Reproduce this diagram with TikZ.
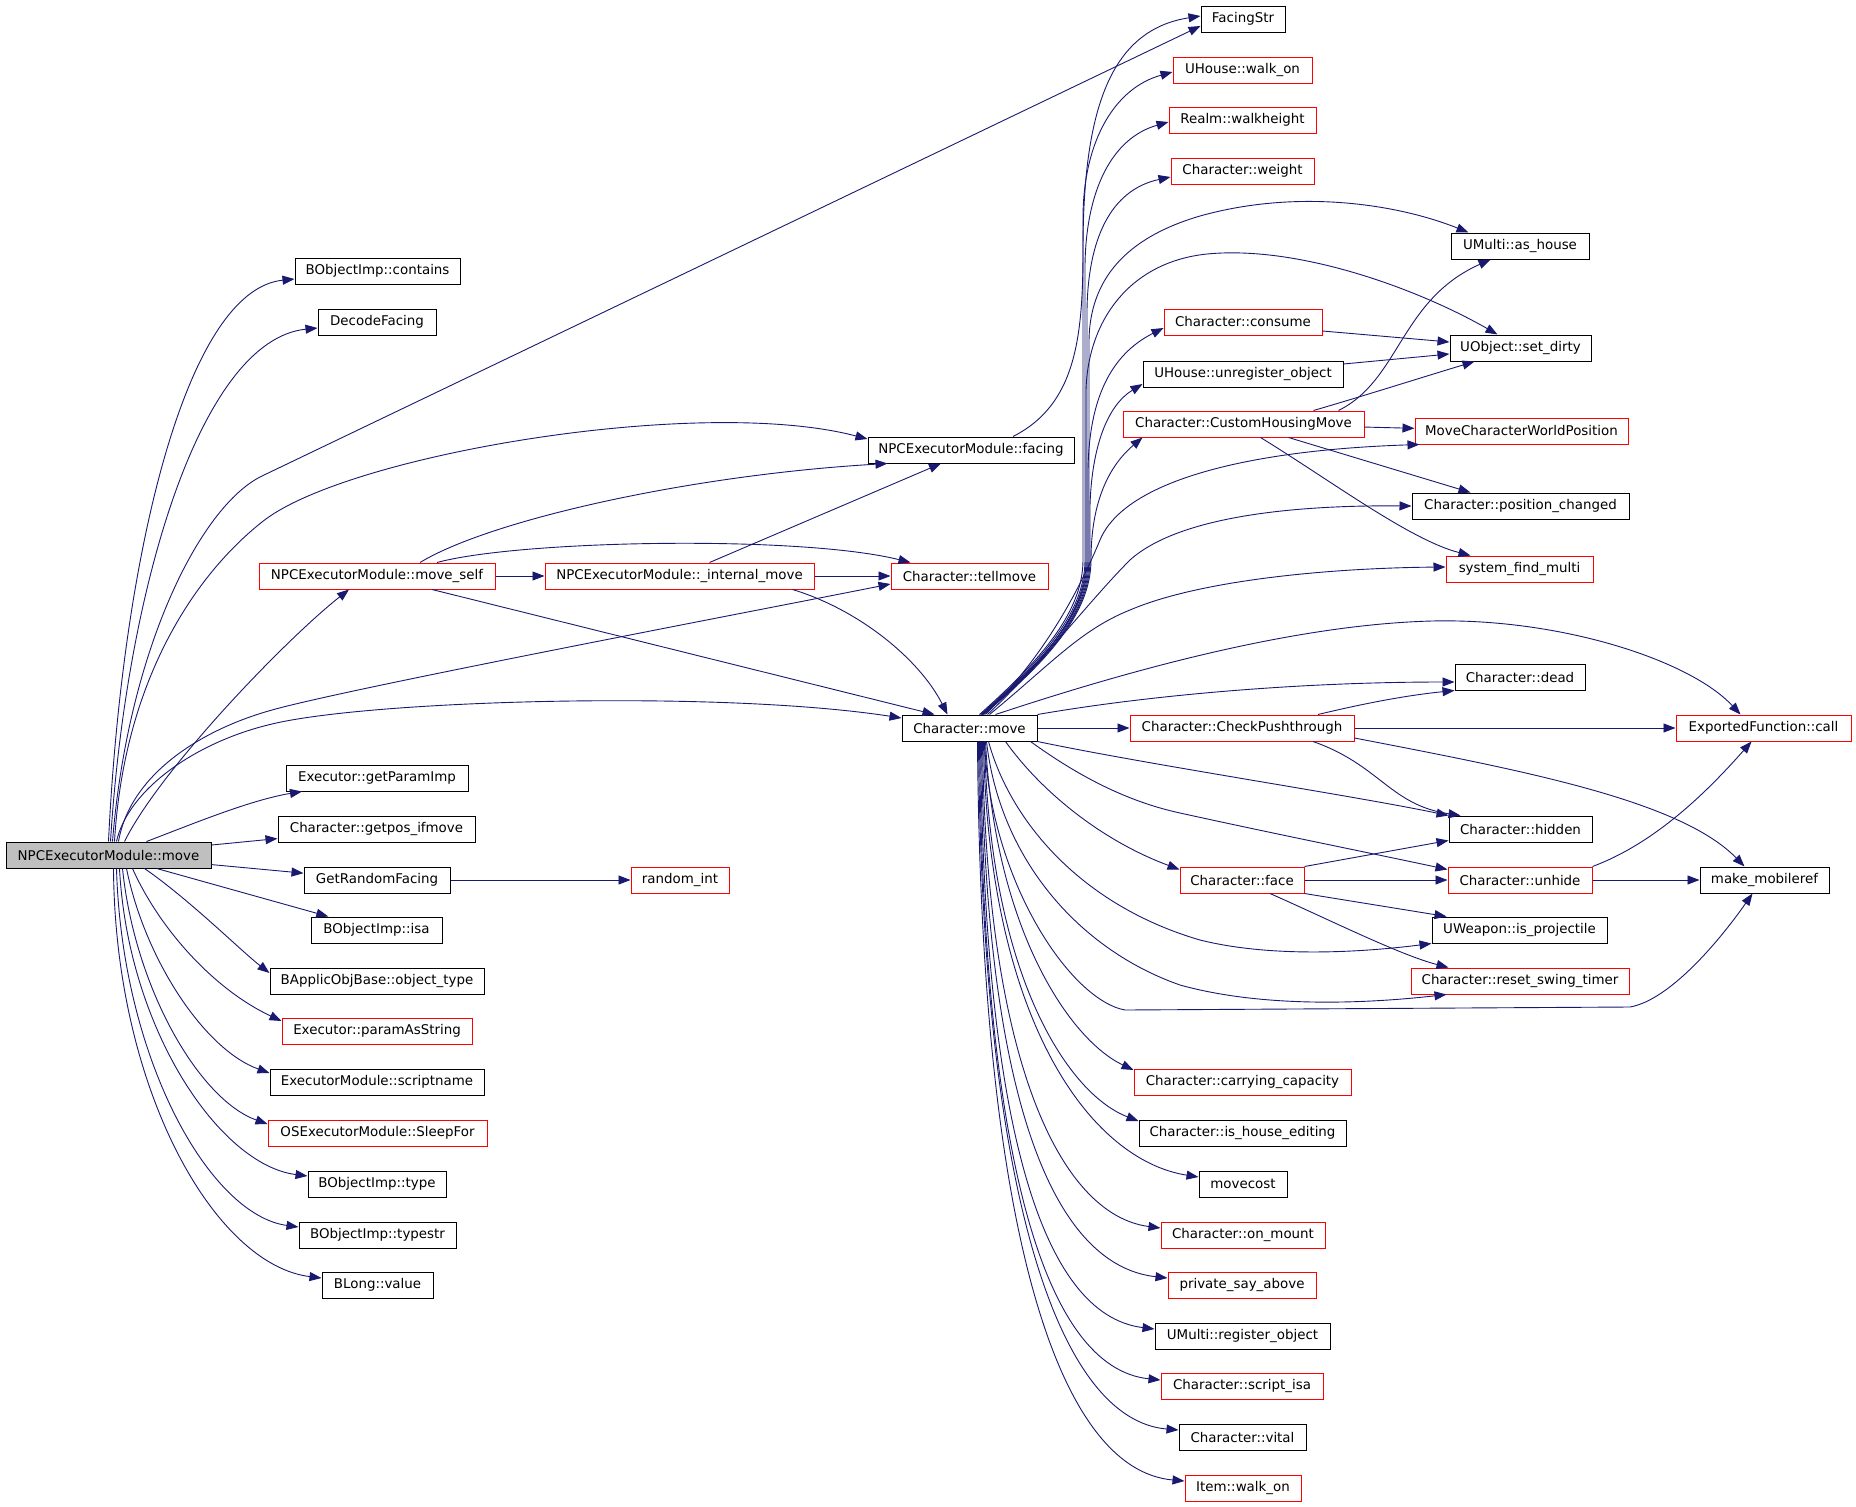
\documentclass[tikz,border=0pt]{standalone}
\usepackage{fontspec}
\setmainfont{DejaVu Sans}
\usetikzlibrary{arrows.meta}
\definecolor{edgeblue}{HTML}{191970}
\definecolor{mainfill}{HTML}{BFBFBF}
\tikzset{
  nb/.style={draw=black, line width=1pt, rectangle, minimum height=26pt, inner sep=0pt, font=\fontsize{13.4}{16}\selectfont, anchor=center},
  nr/.style={nb, draw=red},
  nmain/.style={nb, fill=mainfill},
  e/.style={draw=edgeblue, line width=0.9pt, -{Triangle[length=12pt,width=9pt]}},
}
\begin{document}
\begin{tikzpicture}[x=1pt,y=-1pt]
\fill[white] (0,0) rectangle (1856,1507);
\useasboundingbox (0,0) rectangle (1856,1507);
% ---------- nodes ----------
\node[nmain, minimum width=205pt] (main) at (108.5,855) {NPCExecutorModule::move};
% left column
\node[nb, minimum width=165pt] (contains) at (377.5,271) {BObjectImp::contains};
\node[nb, minimum width=118pt] (decode) at (377,322) {DecodeFacing};
\node[nr, minimum width=236pt] (moveself) at (377,576) {NPCExecutorModule::move\_self};
\node[nb, minimum width=182pt] (getparam) at (377,778) {Executor::getParamImp};
\node[nb, minimum width=197pt] (getpos) at (376.5,829) {Character::getpos\_ifmove};
\node[nb, minimum width=146pt] (grf) at (377,880) {GetRandomFacing};
\node[nb, minimum width=131pt] (isa) at (376.5,930) {BObjectImp::isa};
\node[nb, minimum width=214pt] (objtype) at (377,981) {BApplicObjBase::object\_type};
\node[nr, minimum width=190pt] (paramstr) at (377,1031) {Executor::paramAsString};
\node[nb, minimum width=214pt] (scriptname) at (377,1082) {ExecutorModule::scriptname};
\node[nr, minimum width=219pt] (sleepfor) at (377.5,1133) {OSExecutorModule::SleepFor};
\node[nb, minimum width=138pt] (type) at (377,1184) {BObjectImp::type};
\node[nb, minimum width=157pt] (typestr) at (377.5,1235) {BObjectImp::typestr};
\node[nb, minimum width=111pt] (blong) at (377.5,1285) {BLong::value};
% middle
\node[nr, minimum width=269pt] (intmove) at (679.5,576) {NPCExecutorModule::\_internal\_move};
\node[nr, minimum width=98pt] (randint) at (680,880) {random\_int};
\node[nb, minimum width=206pt] (facing) at (971,450) {NPCExecutorModule::facing};
\node[nr, minimum width=157pt] (tellmove) at (969.5,576) {Character::tellmove};
\node[nb, minimum width=135pt] (cmove) at (969.5,728) {Character::move};
% column 1243
\node[nb, minimum width=84pt] (facingstr) at (1243,19) {FacingStr};
\node[nr, minimum width=139pt] (uhwalk) at (1242.5,70) {UHouse::walk\_on};
\node[nr, minimum width=147pt] (realm) at (1242.5,120) {Realm::walkheight};
\node[nr, minimum width=143pt] (weight) at (1242.5,171) {Character::weight};
\node[nr, minimum width=158pt] (consume) at (1243,322) {Character::consume};
\node[nb, minimum width=200pt] (unreg) at (1243,374) {UHouse::unregister\_object};
\node[nr, minimum width=241pt] (chm) at (1243.5,424) {Character::CustomHousingMove};
\node[nr, minimum width=224pt] (cpt) at (1242,728) {Character::CheckPushthrough};
\node[nr, minimum width=124pt] (face) at (1242,880) {Character::face};
\node[nr, minimum width=217pt] (carry) at (1242.5,1082) {Character::carrying\_capacity};
\node[nb, minimum width=207pt] (ihe) at (1242.5,1133) {Character::is\_house\_editing};
\node[nb, minimum width=88pt] (movecost) at (1243,1184) {movecost};
\node[nr, minimum width=164pt] (onmount) at (1243,1235) {Character::on\_mount};
\node[nr, minimum width=148pt] (psa) at (1242,1285) {private\_say\_above};
\node[nb, minimum width=175pt] (regobj) at (1242.5,1336) {UMulti::register\_object};
\node[nr, minimum width=162pt] (scriptisa) at (1242,1386) {Character::script\_isa};
\node[nb, minimum width=127pt] (vital) at (1242.5,1437) {Character::vital};
\node[nr, minimum width=116pt] (itemwalk) at (1243,1488) {Item::walk\_on};
% column 1520
\node[nb, minimum width=138pt] (ashouse) at (1520,246) {UMulti::as\_house};
\node[nb, minimum width=141pt] (setdirty) at (1520.5,348) {UObject::set\_dirty};
\node[nr, minimum width=213pt] (mcwp) at (1521.5,431) {MoveCharacterWorldPosition};
\node[nb, minimum width=217pt] (posch) at (1520.5,506) {Character::position\_changed};
\node[nr, minimum width=147pt] (sfm) at (1519.5,569) {system\_find\_multi};
\node[nb, minimum width=130pt] (dead) at (1520,677) {Character::dead};
\node[nb, minimum width=143pt] (hidden) at (1520.5,829) {Character::hidden};
\node[nr, minimum width=144pt] (unhide) at (1520,880) {Character::unhide};
\node[nb, minimum width=175pt] (isproj) at (1519.5,930) {UWeapon::is\_projectile};
\node[nr, minimum width=218pt] (rst) at (1520,981) {Character::reset\_swing\_timer};
% column 1764
\node[nr, minimum width=175pt] (efcall) at (1763.5,728) {ExportedFunction::call};
\node[nb, minimum width=129pt] (mmr) at (1764.5,880) {make\_mobileref};
% ---------- edges from main ----------
\draw[e] ([xshift=0pt]main.north) .. controls (122,560) and (185,290) .. ([yshift=-8pt]contains.west);
\draw[e] ([xshift=2pt]main.north) .. controls (126,590) and (200,340) .. ([yshift=-6pt]decode.west);
\draw[e] ([xshift=4pt]main.north) .. controls (128,650) and (200,506) .. (262,476) -- ([yshift=-7pt]facingstr.west);
\draw[e] ([xshift=6pt]main.north) .. controls (124,680) and (195,575) .. (262,522) .. controls (345,455) and (700,395) .. ([yshift=11pt]facing.west);
\draw[e] ([xshift=16pt]main.north) .. controls (160,770) and (285,640) .. ([xshift=-28pt]moveself.south);
\draw[e] ([xshift=10pt]main.north) .. controls (130,775) and (200,730) .. (272,710) .. controls (350,688) and (760,610) .. ([yshift=-8pt]tellmove.west);
\draw[e] ([xshift=8pt]main.north) .. controls (128,790) and (195,742) .. (272,724) .. controls (372,700) and (720,690) .. ([yshift=10pt]cmove.west);
\draw[e] ([xshift=38pt]main.north) .. controls (190,825) and (250,800) .. ([xshift=-75pt]getparam.south);
\draw[e] (main) -- (getpos);
\draw[e] (main) -- (grf);
\draw[e] (main) -- (isa);
\draw[e] ([xshift=36pt]main.south) .. controls (190,900) and (240,950) .. ([yshift=8pt]objtype.west);
\draw[e] ([xshift=24pt]main.south) .. controls (160,930) and (215,990) .. ([yshift=10pt]paramstr.west);
\draw[e] ([xshift=18pt]main.south) .. controls (145,960) and (205,1050) .. ([yshift=9pt]scriptname.west);
\draw[e] ([xshift=14pt]main.south) .. controls (135,990) and (200,1100) .. ([yshift=9pt]sleepfor.west);
\draw[e] ([xshift=11pt]main.south) .. controls (128,1030) and (220,1165) .. ([yshift=8pt]type.west);
\draw[e] ([xshift=8pt]main.south) .. controls (122,1060) and (210,1215) .. ([yshift=8pt]typestr.west);
\draw[e] ([xshift=5pt]main.south) .. controls (115,1090) and (215,1265) .. ([yshift=7pt]blong.west);
% ---------- move_self / _internal_move ----------
\draw[e] ([xshift=43pt]moveself.north) .. controls (490,520) and (690,475) .. ([xshift=20pt]facing.south west);
\draw[e] ([xshift=60pt]moveself.north) .. controls (520,540) and (800,535) .. ([xshift=20pt]tellmove.north west);
\draw[e] (moveself) -- (intmove);
\draw[e] ([xshift=55pt]moveself.south) -- ([xshift=-35pt]cmove.north);
\draw[e] ([xshift=30pt]intmove.north) -- ([xshift=-30pt]facing.south);
\draw[e] (intmove) -- (tellmove);
\draw[e] ([xshift=113pt]intmove.south) .. controls (860,610) and (920,660) .. ([xshift=-22pt]cmove.north);
\draw[e] ([xshift=42pt]facing.north) .. controls (1075,405) and (1083,340) .. (1083,250) .. controls (1083,110) and (1110,30) .. ([yshift=3pt]facingstr.west);
% ---------- Character::move upward bundle ----------
\draw[e] ([xshift=10pt]cmove.north) .. controls (1035,665) and (1083,615) .. (1083,560) -- (1083,215) .. controls (1084,140) and (1115,88) .. ([yshift=-2pt]uhwalk.west);
\draw[e] ([xshift=11pt]cmove.north) .. controls (1037,665) and (1085,615) .. (1085,560) -- (1085,265) .. controls (1086,190) and (1112,138) .. ([yshift=-2pt]realm.west);
\draw[e] ([xshift=12pt]cmove.north) .. controls (1039,665) and (1087,615) .. (1087,560) -- (1087,310) .. controls (1088,240) and (1110,190) .. ([yshift=-6pt]weight.west);
\draw[e] ([xshift=13pt]cmove.north) .. controls (1041,665) and (1089,615) .. (1089,560) -- (1089,340) .. controls (1090,280) and (1125,238) .. (1200,216) .. controls (1300,188) and (1400,205) .. ([xshift=18pt]ashouse.north west);
\draw[e] ([xshift=14pt]cmove.north) .. controls (1040,665) and (1086,615) .. (1086,560) -- (1086,390) .. controls (1088,320) and (1130,262) .. (1207,254) .. controls (1300,245) and (1420,290) .. ([xshift=-23pt]setdirty.north);
\draw[e] ([xshift=12pt]cmove.north) .. controls (1039,665) and (1088,615) .. (1088,560) -- (1088,470) .. controls (1089,400) and (1110,355) .. ([yshift=-6pt]consume.west);
\draw[e] ([xshift=13pt]cmove.north) .. controls (1042,665) and (1090,615) .. (1090,560) -- (1090,505) .. controls (1092,445) and (1108,405) .. ([yshift=-10pt]unreg.west);
\draw[e] ([xshift=14pt]cmove.north) .. controls (1043,665) and (1091,615) .. (1091,560) .. controls (1091,500) and (1110,465) .. ([xshift=20pt]chm.south west);
% ---------- Character::move to the right ----------
\draw[e] ([xshift=16pt]cmove.north) .. controls (1040,660) and (1075,600) .. (1100,540) .. controls (1125,480) and (1250,450) .. ([xshift=5pt]mcwp.south west);
\draw[e] ([xshift=18pt]cmove.north) .. controls (1045,660) and (1090,600) .. (1130,560) .. controls (1180,515) and (1300,505) .. (posch.west);
\draw[e] ([xshift=20pt]cmove.north) .. controls (1050,665) and (1080,630) .. (1130,610) .. controls (1200,580) and (1330,568) .. ([yshift=2pt]sfm.west);
\draw[e] ([xshift=26pt]cmove.north) .. controls (1100,680) and (1280,625) .. (1432,621) .. controls (1560,618) and (1690,660) .. ([xshift=-23pt]efcall.north);
\draw[e] (cmove.north east) .. controls (1150,695) and (1300,682) .. ([yshift=-5pt]dead.west);
\draw[e] (cmove) -- (cpt);
\draw[e] (cmove.south east) .. controls (1150,765) and (1350,795) .. (hidden.north west);
\draw[e] ([xshift=-7pt]cmove.south east) .. controls (1070,770) and (1120,800) .. (1180,813) .. controls (1280,835) and (1380,855) .. ([yshift=-3pt]unhide.north west);
\draw[e] ([xshift=36pt]cmove.south) .. controls (1040,790) and (1100,840) .. ([yshift=-3pt]face.north west);
\draw[e] ([xshift=19pt]cmove.south) .. controls (1010,820) and (1080,905) .. (1200,940) .. controls (1280,960) and (1380,950) .. (isproj.south west);
\draw[e] ([xshift=17pt]cmove.south) .. controls (1000,860) and (1080,950) .. (1180,985) .. controls (1270,1010) and (1380,1002) .. ([xshift=36pt]rst.south west);
\draw[e] ([xshift=15pt]cmove.south) .. controls (990,880) and (1070,1000) .. (1125,1010) -- (1630,1007) .. controls (1670,1000) and (1720,940) .. ([xshift=-12pt]mmr.south);
% ---------- Character::move downward ----------
\draw[e] ([xshift=16pt]cmove.south) .. controls (995,930) and (1070,1040) .. ([yshift=12pt]carry.west);
\draw[e] ([xshift=15pt]cmove.south) .. controls (990,980) and (1070,1095) .. ([yshift=12pt]ihe.west);
\draw[e] ([xshift=14pt]cmove.south) .. controls (988,1020) and (1090,1160) .. ([yshift=7pt]movecost.west);
\draw[e] ([xshift=13pt]cmove.south) .. controls (986,1060) and (1060,1215) .. ([yshift=7pt]onmount.west);
\draw[e] ([xshift=12pt]cmove.south) .. controls (985,1090) and (1050,1265) .. ([yshift=7pt]psa.west);
\draw[e] ([xshift=11pt]cmove.south) .. controls (984,1120) and (1040,1315) .. ([yshift=7pt]regobj.west);
\draw[e] ([xshift=10pt]cmove.south) .. controls (983,1160) and (1045,1368) .. ([yshift=6pt]scriptisa.west);
\draw[e] ([xshift=9pt]cmove.south) .. controls (982,1200) and (1060,1420) .. ([yshift=7pt]vital.west);
\draw[e] ([xshift=8pt]cmove.south) .. controls (981,1240) and (1060,1470) .. ([yshift=7pt]itemwalk.west);
% ---------- CustomHousingMove ----------
\draw[e] ([xshift=95pt]chm.north) .. controls (1400,380) and (1400,300) .. ([xshift=40pt]ashouse.south west);
\draw[e] ([xshift=70pt]chm.north) .. controls (1360,397) and (1420,378) .. ([xshift=25pt]setdirty.south west);
\draw[e] (chm) -- (mcwp);
\draw[e] ([xshift=45pt]chm.south) -- ([xshift=-50pt]posch.north);
\draw[e] ([xshift=17pt]chm.south) .. controls (1330,480) and (1410,540) .. ([xshift=-49pt]sfm.north);
\draw[e] ([yshift=-9pt]consume.east) -- ([yshift=6pt]setdirty.west);
\draw[e] ([yshift=10pt]unreg.east) -- ([yshift=-6pt]setdirty.west);
% ---------- CheckPushthrough ----------
\draw[e] ([xshift=76pt]cpt.north) .. controls (1370,702) and (1410,695) .. (dead.south west);
\draw[e] (cpt) -- (efcall);
\draw[e] ([xshift=71pt]cpt.south) .. controls (1380,765) and (1390,805) .. ([xshift=12pt]hidden.north west);
\draw[e] ([yshift=-10pt]cpt.east) .. controls (1520,770) and (1680,800) .. ([xshift=-20pt]mmr.north);
% ---------- face ----------
\draw[e] (face.north east) -- ([yshift=2pt]hidden.south west);
\draw[e] (face) -- (unhide);
\draw[e] (face.south east) -- ([xshift=15pt]isproj.north west);
\draw[e] ([xshift=28pt]face.south) .. controls (1330,920) and (1400,955) .. ([xshift=38pt]rst.north west);
% ---------- unhide ----------
\draw[e] (unhide.north east) .. controls (1650,845) and (1700,800) .. ([xshift=-12pt]efcall.south);
\draw[e] (unhide) -- (mmr);
% ---------- GetRandomFacing ----------
\draw[e] (grf) -- (randint);
\end{tikzpicture}
\end{document}
